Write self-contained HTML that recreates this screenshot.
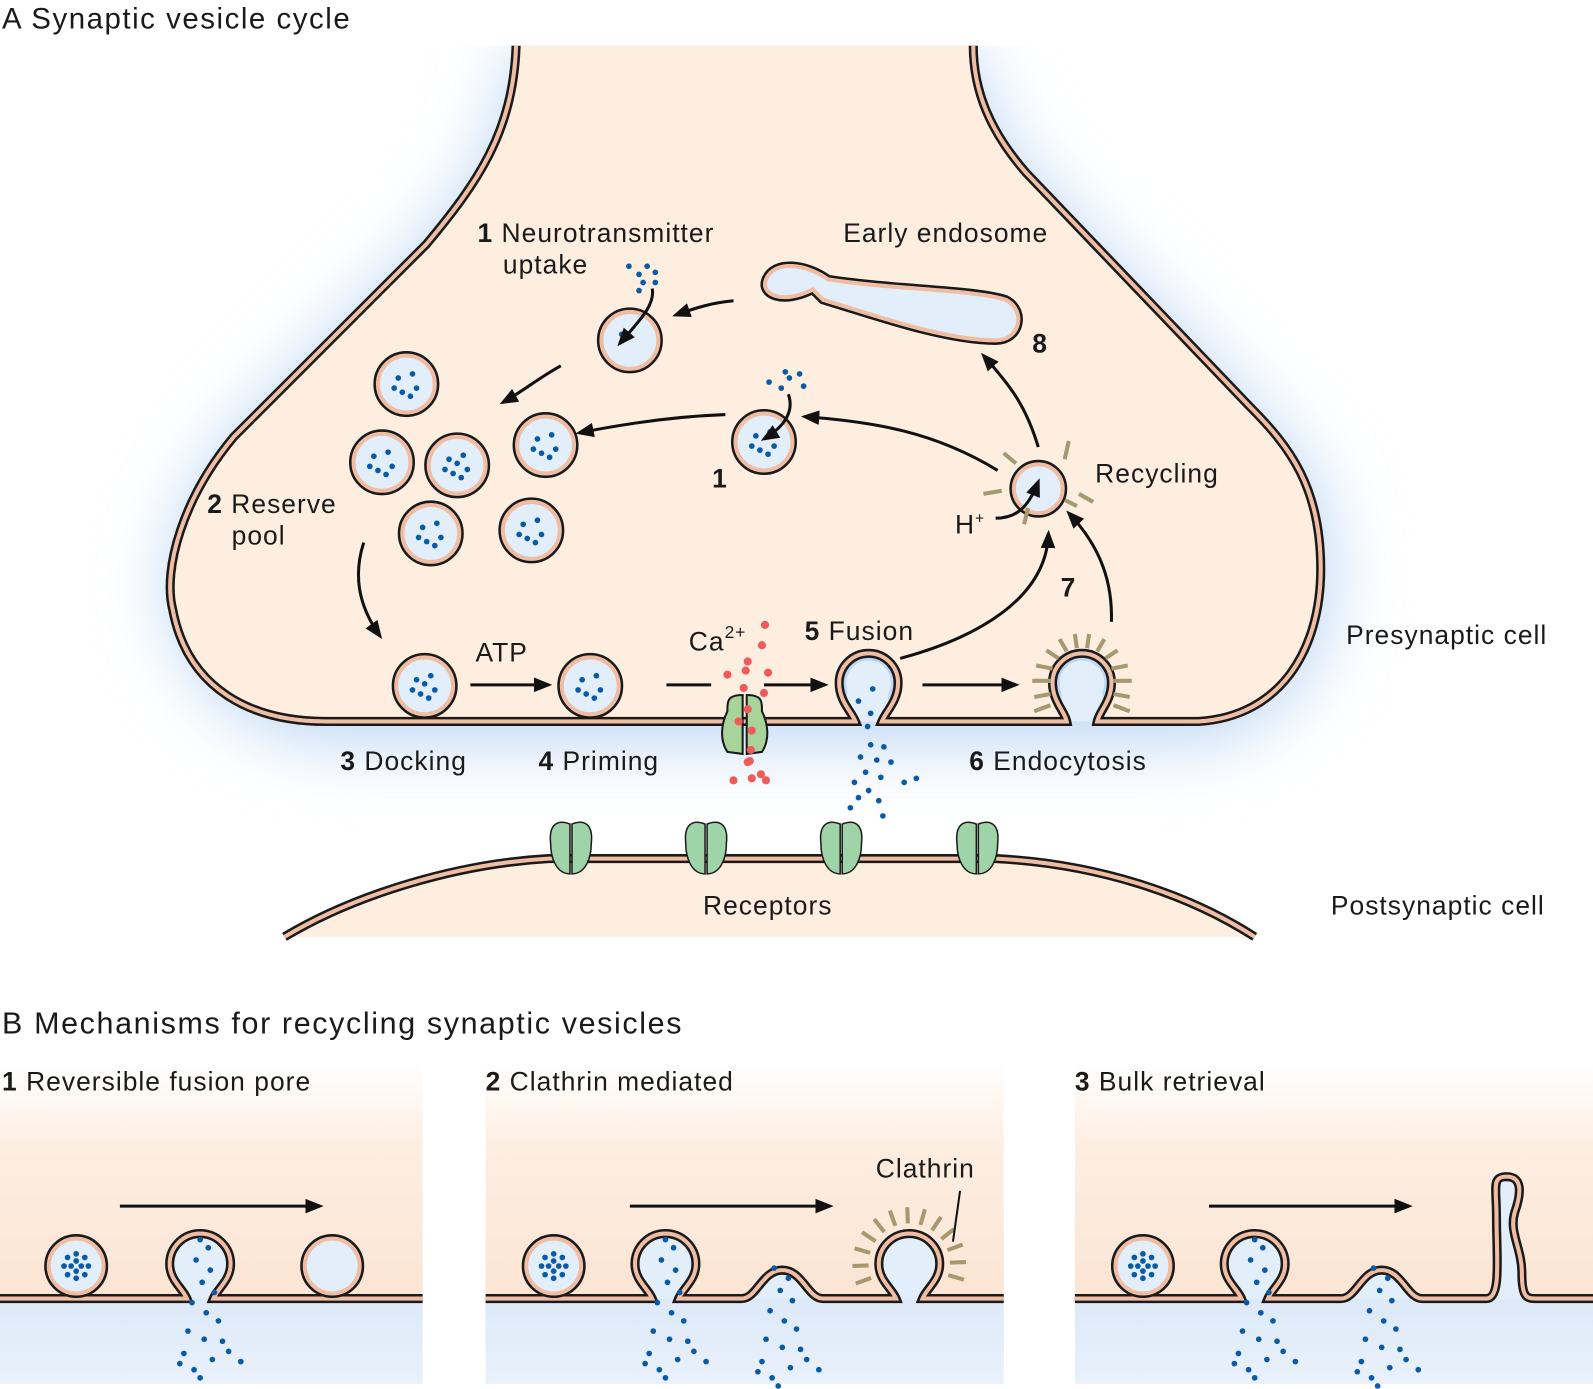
<!DOCTYPE html>
<html><head><meta charset="utf-8"><style>
html,body{margin:0;padding:0;background:#fff}
svg{display:block}
text{font-family:"Liberation Sans",sans-serif;fill:#1a1a1a;letter-spacing:1px}
</style></head><body>
<svg id="fig" width="1593" height="1389" viewBox="0 0 1568 1367" preserveAspectRatio="none" xmlns="http://www.w3.org/2000/svg">
<defs>
<marker id="ah" viewBox="0 0 10 10" refX="8" refY="5" markerWidth="6" markerHeight="6" orient="auto-start-reverse"><path d="M0,1 L10,5 L0,9 Z" fill="#111"/></marker>
<filter id="blur" x="-20%" y="-20%" width="140%" height="140%"><feGaussianBlur stdDeviation="35"/></filter>
<clipPath id="below45"><rect x="0" y="45" width="1568" height="900"/></clipPath>
<linearGradient id="pk" x1="0" y1="0" x2="0" y2="1"><stop offset="0" stop-color="#fff"/><stop offset="0.35" stop-color="#fdeee2"/><stop offset="1" stop-color="#fbe5d4"/></linearGradient>
<linearGradient id="bl" x1="0" y1="0" x2="0" y2="1"><stop offset="0" stop-color="#dde9f8"/><stop offset="1" stop-color="#e9f1fb"/></linearGradient>
</defs>

<text x="2" y="28" font-size="29" style="letter-spacing:1.5px">A  Synaptic vesicle cycle</text>

<path clip-path="url(#below45)" d="M508,45 C505,130 470,180 420,240 L230,430 C180,490 160,560 170,600 C185,680 250,720 320,730 L1180,730 C1270,715 1310,640 1310,560 C1310,480 1270,440 1230,400 L1010,170 C975,130 958,90 958,45 Z" fill="#bcd6f3" filter="url(#blur)"/>
<g>
<path d="M508,45 C505,130 470,180 420,240 L230,430 C180,490 160,560 170,600 C185,680 250,710 320,710 L842,710 C838,700 826,690 826,672 A29,29 0 1 1 884,672 C884,690 872,700 868,710 L1050,710 C1048,700 1036,690 1036,672 A29,29 0 1 1 1094,672 C1094,690 1082,700 1080,710 L1180,710 C1260,705 1300,640 1300,560 C1300,480 1270,440 1230,400 L1010,170 C975,130 958,90 958,45 Z" fill="#fdeee0"/>
<path d="M854,710 L854,672 M1065,710 L1065,672" stroke="#e3eefb" stroke-width="40"/>
<circle cx="855" cy="672" r="22" fill="#e3eefb"/><circle cx="1065" cy="672" r="22" fill="#e3eefb"/>
<path d="M508,45 C505,130 470,180 420,240 L230,430 C180,490 160,560 170,600 C185,680 250,710 320,710 L842,710 C838,700 826,690 826,672 A29,29 0 1 1 884,672 C884,690 872,700 868,710 L1050,710 C1048,700 1036,690 1036,672 A29,29 0 1 1 1094,672 C1094,690 1082,700 1080,710 L1180,710 C1260,705 1300,640 1300,560 C1300,480 1270,440 1230,400 L1010,170 C975,130 958,90 958,45" fill="none" stroke="#1a1a1a" stroke-width="9"/>
<path d="M508,45 C505,130 470,180 420,240 L230,430 C180,490 160,560 170,600 C185,680 250,710 320,710 L842,710 C838,700 826,690 826,672 A29,29 0 1 1 884,672 C884,690 872,700 868,710 L1050,710 C1048,700 1036,690 1036,672 A29,29 0 1 1 1094,672 C1094,690 1082,700 1080,710 L1180,710 C1260,705 1300,640 1300,560 C1300,480 1270,440 1230,400 L1010,170 C975,130 958,90 958,45" fill="none" stroke="#eebda3" stroke-width="4"/>
</g>
<g stroke="#a89870" stroke-width="4">
<path d="M1018,686 L1034,683 M1016,670 L1034,670 M1020,655 L1036,658 M1030,640 L1042,648 M1043,629 L1050,641 M1058,624 L1060,638 M1072,624 L1070,638 M1087,629 L1080,641 M1100,640 L1088,648 M1110,655 L1094,658 M1114,670 L1096,670 M1112,686 L1096,683 M1018,700 L1034,694 M1112,700 L1096,694"/>
</g>

<g>
<path d="M280,922 C350,880 450,850 540,845 L980,845 C1080,850 1170,880 1235,922 Z" fill="#fdeee0"/>
<path d="M280,922 C350,880 450,850 540,845 L980,845 C1080,850 1170,880 1235,922" fill="none" stroke="#1a1a1a" stroke-width="9"/>
<path d="M280,922 C350,880 450,850 540,845 L980,845 C1080,850 1170,880 1235,922" fill="none" stroke="#eebda3" stroke-width="4"/>
</g>
<g id="receptors"></g>

<g stroke="#1a1a1a" stroke-width="2" fill="#a8d49a">
<path d="M731,684 C716,684 716,690 716,700 C710,712 708,728 716,740 L731,742 Z"/>
<path d="M735,684 C750,684 750,690 750,700 C756,712 758,728 750,740 L735,742 Z"/>
</g>
<g id="cadots"></g>
<g id="ntdots"></g>
<g id="vesicles"></g>

<g>
<path d="M800,285 C770,300 748,290 754,275 C762,255 795,260 815,275 C880,285 960,285 990,295 C1010,305 1005,335 980,335 C930,335 860,310 810,295 Z" fill="#e3eefb" stroke="#1a1a1a" stroke-width="9"/>
<path d="M800,285 C770,300 748,290 754,275 C762,255 795,260 815,275 C880,285 960,285 990,295 C1010,305 1005,335 980,335 C930,335 860,310 810,295 Z" fill="#e3eefb" stroke="#eebda3" stroke-width="4"/>
</g>
<g stroke="#a89870" stroke-width="4">
<path d="M988,446 L1000,456 M968,486 L986,483 M1008,516 L1012,500 M1060,498 L1048,492 M1076,494 L1062,486 M1052,434 L1048,452"/>
</g>

<g fill="none" stroke="#111" stroke-width="3" marker-end="url(#ah)">
<path d="M722,296 C700,298 685,303 665,310"/>
<path d="M552,360 C530,372 515,385 495,396"/>
<path d="M714,408 C660,410 610,418 570,426"/>
<path d="M982,463 C920,425 860,415 792,410"/>
<path d="M1022,440 C1010,400 995,380 968,350"/>
<path d="M358,534 C348,565 352,595 374,626"/>
<path d="M463,674 L540,674"/>
<path d="M656,674 L700,674" marker-end="none"/>
<path d="M752,674 L812,674"/>
<path d="M908,674 L1000,674"/>
<path d="M886,648 C960,628 1030,590 1032,525"/>
<path d="M1094,612 C1095,575 1085,540 1052,505"/>
<path d="M980,510 C1000,510 1012,500 1022,474"/>
<path d="M642,284 C645,300 630,315 610,338"/>
<path d="M776,388 C782,405 772,420 752,432"/>
</g>

<g font-size="26">
<text x="470" y="238"><tspan font-weight="bold">1</tspan> Neurotransmitter</text>
<text x="495" y="269">uptake</text>
<text x="830" y="238">Early endosome</text>
<text x="1016" y="347" font-weight="bold">8</text>
<text x="701" y="480" font-weight="bold">1</text>
<text x="1078" y="475">Recycling</text>
<text x="940" y="525">H<tspan font-size="15" dy="-10">+</tspan></text>
<text x="1044" y="587" font-weight="bold">7</text>
<text x="204" y="505"><tspan font-weight="bold">2</tspan> Reserve</text>
<text x="228" y="536">pool</text>
<text x="468" y="651">ATP</text>
<text x="678" y="640">Ca<tspan font-size="17" dy="-12">2+</tspan></text>
<text x="792" y="630"><tspan font-weight="bold">5</tspan> Fusion</text>
<text x="1325" y="634">Presynaptic cell</text>
<text x="335" y="758"><tspan font-weight="bold">3</tspan> Docking</text>
<text x="530" y="758"><tspan font-weight="bold">4</tspan> Priming</text>
<text x="954" y="758"><tspan font-weight="bold">6</tspan> Endocytosis</text>
<text x="692" y="900">Receptors</text>
<text x="1310" y="900">Postsynaptic cell</text>
</g>

<text x="2" y="1017" font-size="30" style="letter-spacing:1.6px">B  Mechanisms for recycling synaptic vesicles</text>
<g id="panelsB"></g>
<g font-size="26">
<text x="2" y="1073"><tspan font-weight="bold">1</tspan> Reversible fusion pore</text>
<text x="478" y="1073"><tspan font-weight="bold">2</tspan> Clathrin mediated</text>
<text x="1058" y="1073"><tspan font-weight="bold">3</tspan> Bulk retrieval</text>
<text x="862" y="1159">Clathrin</text>
</g>
<path d="M945,1172 L938,1222" stroke="#111" stroke-width="2"/>
</svg>
<script>
const vesicleX=[620,400,376,450,537,424,523,418,581,752,1022];
const vesicleY=[335,378,455,458,438,525,522,675,675,435,481];
const vesicleDots=[1,6,6,7,6,6,6,7,6,6,0];
const recX=[562,695,828,962];
const caX=[757,754,740,720,738,760,736,756,740,731,744,743,742,753,740,758,726,744];
const caY=[617,637,653,666,662,664,679,684,700,712,721,740,751,764,752,770,770,768];
const ntX=[622,632,640,648,636,632,648,760,772,790,794,780,776,862,848,860,857,860,873,850,866,880,855,870,893,844,858,848,868,840,872,905];
const ntY=[262,270,262,268,278,286,278,376,382,368,380,372,366,678,690,702,715,733,735,745,748,750,760,765,770,770,778,785,788,795,803,766];
const panelX=[0,478,1058];
const panelW=[416,510,510];

const NS='http://www.w3.org/2000/svg';
function mk(tag,attrs,parent){const e=document.createElementNS(NS,tag);for(const k in attrs)e.setAttribute(k,attrs[k]);parent.appendChild(e);return e;}
const vg=document.getElementById('vesicles');
const off=[[-8,-6],[6,-10],[10,4],[-4,8],[4,12],[-12,4],[0,-2],[12,-4]];
vesicleX.forEach((x,i)=>{
  const g=mk('g',{},vg);
  
  
  const r=i===10?24:28;
  mk('circle',{cx:x,cy:vesicleY[i],r:r,fill:'#e3eefb',stroke:'#1a1a1a','stroke-width':9},g);
  mk('circle',{cx:x,cy:vesicleY[i],r:r,fill:'#e3eefb',stroke:'#eebda3','stroke-width':4},g);
  for(let k=0;k<vesicleDots[i];k++) mk('circle',{cx:x+off[k][0],cy:vesicleY[i]+off[k][1],r:2.8,fill:'#0a5aa8'},g);
});
const rg=document.getElementById('receptors');
recX.forEach(x=>{
  const g=mk('g',{stroke:'#1a1a1a','stroke-width':1.5,fill:'#9fd4a8'},rg);
  
  
  mk('path',{d:`M${x-1},811 C${x-14},806 ${x-22},812 ${x-20},830 C${x-20},845 ${x-14},860 ${x-1},860 Z`},g);
  mk('path',{d:`M${x+1},811 C${x+14},806 ${x+22},812 ${x+20},830 C${x+20},845 ${x+14},860 ${x+1},860 Z`},g);
});
const cg=document.getElementById('cadots');


caX.forEach((x,i)=>mk('circle',{cx:x-4,cy:caY[i]-2,r:4,fill:'#f05a5a'},cg));
const ng=document.getElementById('ntdots');


ntX.forEach((x,i)=>mk('circle',{cx:x-3,cy:ntY[i],r:2.8,fill:'#0a5aa8'},ng));

const pb=document.getElementById('panelsB');
const MY=1278;
const fusionOff=[197,177,177];
const vesOff=[75,67,67];
const arrowOff=[118,142,132];
const bumpOff=[0,292,302];
function pit(cx){return ` L${cx-13},${MY} C${cx-17},${MY-10} ${cx-30},${MY-18} ${cx-30},${MY-34} A30,30 0 1 1 ${cx+30},${MY-34} C${cx+30},${MY-18} ${cx+17},${MY-10} ${cx+13},${MY}`;}
function panel(i){
  const g=mk('g',{},pb);
  
  
  const x0=panelX[i],w=panelW[i];
  mk('rect',{x:x0,y:1045,width:w,height:MY-1045,fill:'url(#pk)'},g);
  mk('rect',{x:x0,y:MY,width:w,height:1362-MY,fill:'url(#bl)'},g);
  let d=`M${x0},${MY}`;
  const fx=x0+fusionOff[i];
  d+=pit(fx);
  if(i>0){const bx=x0+bumpOff[i];d+=` L${bx-40},${MY} C${bx-25},${MY} ${bx-20},${MY-28} ${bx},${MY-28} C${bx+20},${MY-28} ${bx+25},${MY} ${bx+40},${MY}`;}
  if(i===1){d+=pit(x0+417);}
  if(i===2){const bx=x0+405;d+=` L${bx},${MY} C${bx+15},${MY} ${bx+10},${MY-40} ${bx+10},${MY-80} C${bx+10},${MY-110} ${bx+5},${MY-120} ${bx+20},${MY-120} C${bx+35},${MY-120} ${bx+35},${MY-105} ${bx+28},${MY-85} C${bx+22},${MY-65} ${bx+35},${MY-50} ${bx+35},${MY-25} C${bx+35},${MY} ${bx+40},${MY} ${bx+50},${MY}`;}
  d+=` L${x0+w},${MY}`;
  mk('path',{d:d,fill:'#e3eefb',stroke:'none'},g);
  mk('path',{d:d,fill:'none',stroke:'#1a1a1a','stroke-width':9},g);
  mk('path',{d:d,fill:'none',stroke:'#eebda3','stroke-width':4},g);
  mk('path',{d:`M${x0+arrowOff[i]},1187 L${x0+arrowOff[i]+197},1187`,stroke:'#111','stroke-width':3,'marker-end':'url(#ah)'},g);
  const vx=x0+vesOff[i];
  mk('circle',{cx:vx,cy:1246,r:27,fill:'#e3eefb',stroke:'#1a1a1a','stroke-width':9},g);
  mk('circle',{cx:vx,cy:1246,r:27,fill:'#e3eefb',stroke:'#eebda3','stroke-width':4},g);
  for(let a=0;a<12;a++){const rr=a<4?5:12;const t=a*Math.PI/(a<4?2:4);mk('circle',{cx:vx+rr*Math.cos(t),cy:1246+rr*Math.sin(t),r:2.8,fill:'#0a5aa8'},g);}
  if(i===0){mk('circle',{cx:x0+327,cy:1246,r:27,fill:'#e3eefb',stroke:'#1a1a1a','stroke-width':9},g);mk('circle',{cx:x0+327,cy:1246,r:27,fill:'#e3eefb',stroke:'#eebda3','stroke-width':4},g);}
  if(i===1){const cx=x0+417;const p=[];for(let a=-200;a<=20;a+=18){const t=a*Math.PI/180;p.push(`M${cx+40*Math.cos(t)},${1244+40*Math.sin(t)} L${cx+56*Math.cos(t)},${1244+56*Math.sin(t)}`);}mk('path',{d:p.join(' '),stroke:'#a89870','stroke-width':4},g);}
  const sx=[0,8,-4,10,2,14,-8,6,18,-12,4,22,-16,12,-6,28,40,-20,0];
  const sy=[-70,-62,-50,-40,-28,-18,-8,2,10,20,28,30,42,48,58,40,50,52,66];
  sx.forEach((dx,k)=>mk('circle',{cx:fx+dx,cy:MY+sy[k]+12,r:2.8,fill:'#0a5aa8'},g));
  if(i>0){const bx=x0+bumpOff[i];sx.forEach((dx,k)=>{if(sy[k]>-60)mk('circle',{cx:bx+dx-4,cy:MY+sy[k]+20,r:2.8,fill:'#0a5aa8'},g);});}
}
[0,1,2].forEach(panel);
</script>
</body></html>
